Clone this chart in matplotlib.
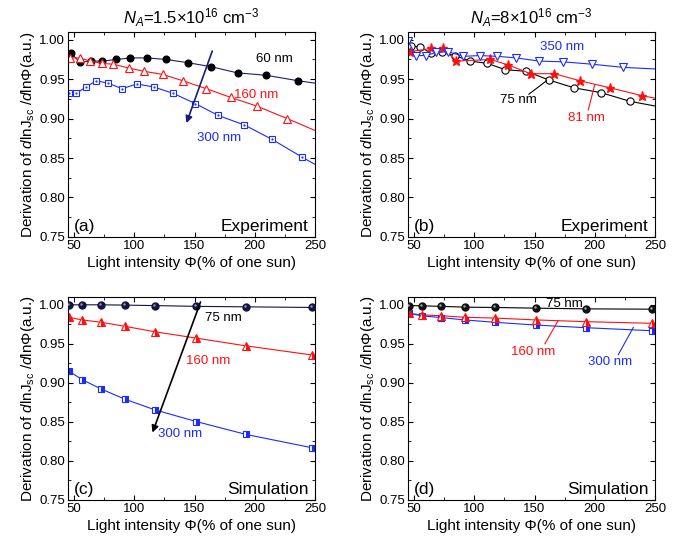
import matplotlib
matplotlib.use("Agg")
import matplotlib.pyplot as plt
import matplotlib.transforms as mtransforms
from matplotlib.ticker import MultipleLocator, FormatStrFormatter

plt.rcParams['font.family'] = ['Liberation Sans', 'DejaVu Sans']
plt.rcParams['mathtext.fontset'] = 'custom'
plt.rcParams['mathtext.rm'] = 'Liberation Sans'
plt.rcParams['mathtext.it'] = 'Liberation Sans:italic'

# ---------------- (a) experiment, NA = 1.5e16 ----------------
a60_x = [47.2, 54.7, 63.8, 73.5, 85.2, 96.8, 110.7, 126.7, 144.2, 163.3, 185.7, 209.3, 236.1]
a60_y = [0.983, 0.972, 0.973, 0.973, 0.975, 0.977, 0.977, 0.975, 0.971, 0.966, 0.958, 0.955, 0.948]
a160_x = [46.9, 54.7, 63.6, 73.0, 82.7, 95.7, 108.4, 123.7, 140.3, 159.7, 179.9, 201.5, 227.0]
a160_y = [0.977, 0.977, 0.973, 0.970, 0.969, 0.964, 0.960, 0.956, 0.948, 0.938, 0.927, 0.916, 0.900]
a300_x = [45.5, 51.9, 59.7, 68.5, 78.2, 89.9, 102.3, 116.5, 132.3, 150.8, 169.7, 191.3, 214.0, 239.5]
a300_y = [0.933, 0.932, 0.940, 0.948, 0.945, 0.938, 0.944, 0.940, 0.932, 0.919, 0.904, 0.892, 0.874, 0.851]
a_end = [0.945, 0.885, 0.842]   # fit lines at 250 %

# ---------------- (b) experiment, NA = 8e16 ----------------
b75_x = [47.2, 54.7, 64.4, 73.5, 83.8, 96.8, 110.9, 125.9, 143.3, 161.9, 182.9, 205.1, 229.2]
b75_y = [0.992, 0.991, 0.983, 0.984, 0.980, 0.973, 0.970, 0.962, 0.960, 0.949, 0.939, 0.933, 0.922]
b81_x = [46.4, 64.4, 74.1, 85.2, 113.4, 128.4, 146.7, 166.3, 187.7, 212.9, 239.5]
b81_y = [0.985, 0.989, 0.989, 0.973, 0.975, 0.968, 0.957, 0.957, 0.948, 0.939, 0.929]
b350_x = [45.0, 51.4, 59.7, 68.5, 78.2, 90.7, 104.6, 119.0, 135.0, 153.6, 173.8, 197.9, 223.7]
b350_y = [0.999, 0.980, 0.980, 0.984, 0.985, 0.979, 0.980, 0.979, 0.977, 0.973, 0.972, 0.969, 0.965]
b_end = [0.916, 0.926, 0.963]

# ---------------- (c), (d) simulation ----------------
sim_x = [45.8, 56.9, 72.7, 92.4, 117.0, 151.6, 192.6, 247.2]
c75_y = [1.000, 1.000, 1.000, 0.9996, 0.999, 0.998, 0.9974, 0.9966]
c160_y = [0.984, 0.9806, 0.9776, 0.9724, 0.9655, 0.9573, 0.9474, 0.9358]
c300_y = [0.915, 0.904, 0.892, 0.879, 0.8655, 0.8504, 0.834, 0.817]
d75_y = [0.999, 0.9987, 0.998, 0.997, 0.9966, 0.9957, 0.9948, 0.9944]
d160_y = [0.989, 0.987, 0.986, 0.984, 0.983, 0.9806, 0.9784, 0.9763]
d300_y = [0.989, 0.9858, 0.9836, 0.9806, 0.9776, 0.974, 0.9707, 0.9668]

RED = '#ff1010'
BLUE = '#1a2cff'
NAVY = '#1c1c78'

xlabel = 'Light intensity \u03a6(% of one sun)'
ylabel = r'Derivation of $d$lnJ$_{\rm sc}$ /$d$ln$\Phi$(a.u.)'

fig = plt.figure(figsize=(6.83, 5.36), dpi=100)
ax_a = fig.add_axes([0.0996, 0.558, 0.3616, 0.3825])
ax_b = fig.add_axes([0.5974, 0.558, 0.3616, 0.3825])
ax_c = fig.add_axes([0.0996, 0.0672, 0.3616, 0.3787])
ax_d = fig.add_axes([0.5974, 0.0672, 0.3616, 0.3787])


def style(ax, tag, kind):
    ax.set_xlim(45, 250)
    ax.set_ylim(0.75, 1.01)
    ax.xaxis.set_major_locator(MultipleLocator(50))
    ax.xaxis.set_minor_locator(MultipleLocator(25))
    ax.yaxis.set_major_locator(MultipleLocator(0.05))
    ax.yaxis.set_minor_locator(MultipleLocator(0.025))
    ax.yaxis.set_major_formatter(FormatStrFormatter('%.2f'))
    ax.tick_params(which='both', direction='in', top=True, right=True,
                   labelsize=9.5, pad=2)
    ax.tick_params(which='major', length=3.5)
    ax.tick_params(which='minor', length=2)
    ax.set_xlabel(xlabel, fontsize=11, labelpad=3)
    ax.set_ylabel(ylabel, fontsize=11, labelpad=2)
    ax.text(0.025, 0.03, tag, transform=ax.transAxes, fontsize=12.5)
    ax.text(0.975, 0.03, kind, transform=ax.transAxes, fontsize=12.5, ha='right')


def spheres(ax, x, y, color, hl):
    ax.plot(x, y, 'o', ms=5, color=color, zorder=3)
    off = mtransforms.offset_copy(ax.transData, fig=fig, x=-1.0, y=1.0, units='dots')
    ax.plot(x, y, 'o', ms=1.8, color=hl, mec='none', transform=off, zorder=4)


# (a)
ax = ax_a
ax.plot(a60_x + [250], a60_y + [a_end[0]], '-', color=NAVY, lw=0.8)
ax.plot(a60_x, a60_y, 'o', color='black', ms=4.8)
ax.plot(a160_x + [250], a160_y + [a_end[1]], '-', color=RED, lw=0.8)
ax.plot(a160_x, a160_y, '^', mfc='white', mec=RED, mew=0.8, ms=5.5)
ax.plot(a300_x + [250], a300_y + [a_end[2]], '-', color=BLUE, lw=0.8)
ax.plot(a300_x, a300_y, 's', mfc='white', mec=BLUE, mew=0.8, ms=4.6)
ax.plot(a300_x, a300_y, '.', color=BLUE, ms=1.2)
ax.annotate('', xy=(142.5, 0.891), xytext=(165.5, 0.989),
            arrowprops=dict(arrowstyle='-|>', color=NAVY, lw=1.2, mutation_scale=10))
ax.text(216, 0.975, '60 nm', color='black', fontsize=9.5, ha='center', va='center')
ax.text(201.5, 0.930, '160 nm', color=RED, fontsize=9.5, ha='center', va='center')
ax.text(170, 0.875, '300 nm', color=BLUE, fontsize=9.5, ha='center', va='center')
style(ax, '(a)', 'Experiment')
ax.set_title(r'$N_A$=1.5×10$^{16}$ cm$^{-3}$', fontsize=12, pad=6)

# (b)
ax = ax_b
ax.plot(b75_x + [250], b75_y + [b_end[0]], '-', color='black', lw=0.8)
ax.plot(b75_x, b75_y, 'o', mfc='white', mec='black', mew=0.8, ms=5.2)
ax.plot(b81_x + [250], b81_y + [b_end[1]], '-', color=RED, lw=0.8)
ax.plot(b81_x, b81_y, '*', color=RED, ms=6.5)
ax.plot(b350_x + [250], b350_y + [b_end[2]], '-', color=BLUE, lw=0.8)
ax.plot(b350_x, b350_y, 'v', mfc='white', mec=BLUE, mew=0.8, ms=5.2)
ax.text(173, 0.991, '350 nm', color=BLUE, fontsize=9.5, ha='center', va='center')
ax.text(136.4, 0.924, '75 nm', color='black', fontsize=9.5, ha='center', va='center')
ax.plot([145.3, 160], [0.931, 0.948], color='black', lw=0.8)
ax.text(193, 0.9006, '81 nm', color=RED, fontsize=9.5, ha='center', va='center')
ax.plot([194.6, 200], [0.911, 0.943], color=RED, lw=0.8)
style(ax, '(b)', 'Experiment')
ax.set_title(r'$N_A$=8×10$^{16}$ cm$^{-3}$', fontsize=12, pad=6)

# (c)
ax = ax_c
ax.plot(sim_x + [250], c75_y + [c75_y[-1]], '-', color='#141440', lw=0.8)
spheres(ax, sim_x, c75_y, '#141440', '#9090b0')
ax.plot(sim_x + [250], c160_y + [c160_y[-1]], '-', color=RED, lw=0.8)
ax.plot(sim_x, c160_y, '^', color=RED, fillstyle='right', mfc=RED,
        mfcalt='white', mec=RED, mew=0.8, ms=5.5)
ax.plot(sim_x + [250], c300_y + [c300_y[-1]], '-', color=BLUE, lw=0.8)
ax.plot(sim_x, c300_y, 's', color=BLUE, fillstyle='right', mfc=BLUE,
        mfcalt='white', mec=BLUE, mew=0.8, ms=4.8)
ax.annotate('', xy=(114.3, 0.833), xytext=(155.8, 1.007),
            arrowprops=dict(arrowstyle='-|>', color='black', lw=1.2, mutation_scale=10))
ax.text(173.8, 0.983, '75 nm', color='black', fontsize=9.5, ha='center', va='center')
ax.text(161.3, 0.928, '160 nm', color=RED, fontsize=9.5, ha='center', va='center')
ax.text(137.8, 0.834, '300 nm', color=BLUE, fontsize=9.5, ha='center', va='center')
style(ax, '(c)', 'Simulation')

# (d)
ax = ax_d
ax.plot(sim_x + [250], d75_y + [d75_y[-1]], '-', color='black', lw=0.8)
spheres(ax, sim_x, d75_y, '#111111', '#a0a0a0')
ax.plot(sim_x + [250], d160_y + [d160_y[-1]], '-', color=RED, lw=0.8)
ax.plot(sim_x + [250], d300_y + [d300_y[-1]], '-', color=BLUE, lw=0.8)
ax.plot(sim_x, d300_y, 's', color=BLUE, fillstyle='right', mfc=BLUE,
        mfcalt='white', mec=BLUE, mew=0.8, ms=4.8)
ax.plot(sim_x, d160_y, '^', color=RED, fillstyle='right', mfc=RED,
        mfcalt='white', mec=RED, mew=0.8, ms=5.5)
ax.text(175, 1.001, '75 nm', color='black', fontsize=9.5, ha='center', va='center')
ax.text(148.9, 0.9397, '160 nm', color=RED, fontsize=9.5, ha='center', va='center')
ax.plot([158.6, 169.7], [0.950, 0.980], color=RED, lw=0.8)
ax.text(212.6, 0.9267, '300 nm', color=BLUE, fontsize=9.5, ha='center', va='center')
ax.plot([219.5, 232], [0.936, 0.971], color=BLUE, lw=0.8)
style(ax, '(d)', 'Simulation')

fig.savefig('out.png', dpi=100)
